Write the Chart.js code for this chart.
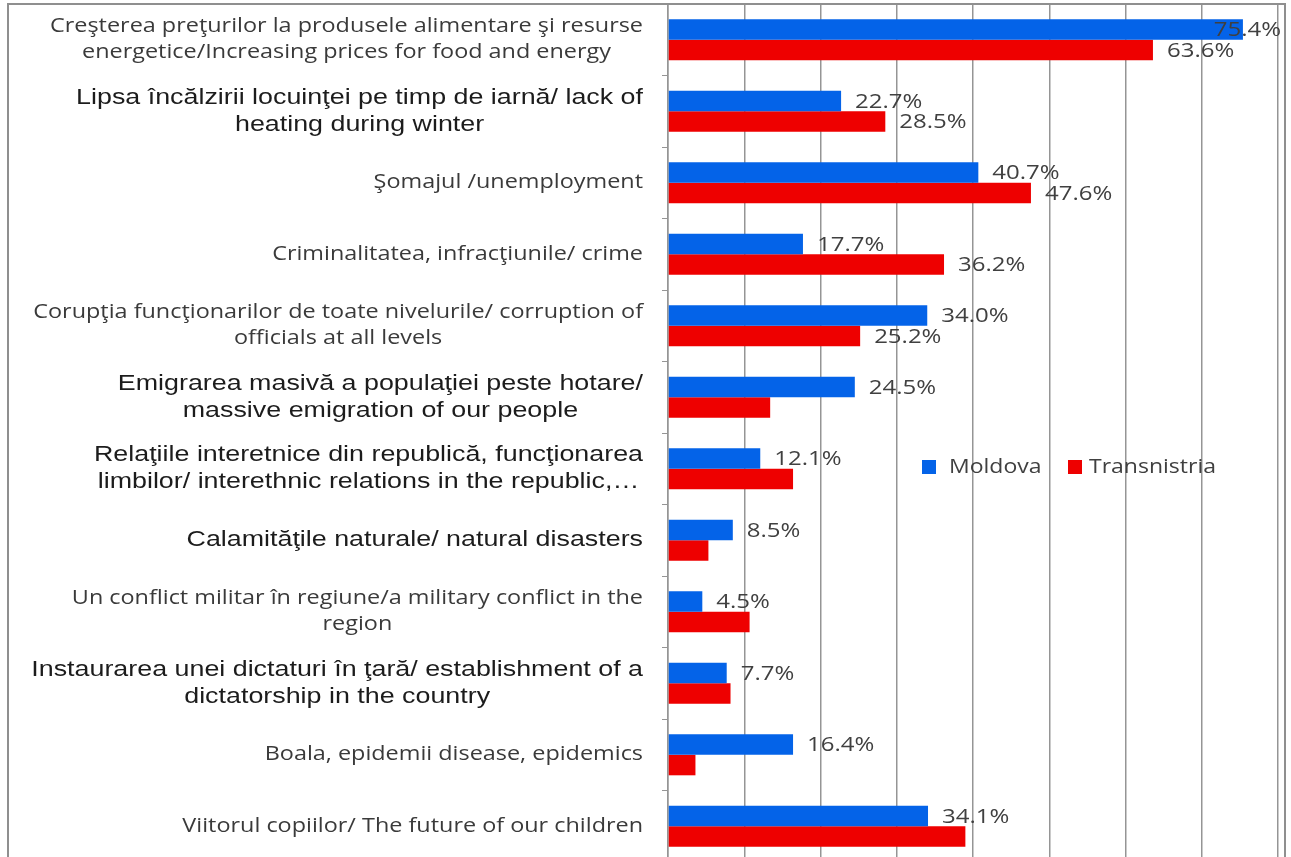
<!DOCTYPE html>
<html>
<head>
<meta charset="utf-8">
<script src="https://cdn.jsdelivr.net/npm/chart.js@4.4.0/dist/chart.umd.min.js"></script>
<style>
	html, body { margin: 0; padding: 0; background: #fff; overflow: hidden; }
	#wrap { position: relative; width: 1291px; height: 862px; }
</style>
</head>
<body>
<div id="wrap"><canvas id="problemsChart" width="1291" height="862"></canvas></div>
<script>
// categories (each entry = lines of the label)
var categories = [
	[ "Creşterea preţurilor la produsele alimentare şi resurse", "energetice/Increasing prices for food and energy" ],
	[ "Lipsa încălzirii locuinţei pe timp de iarnă/ lack of", "heating during winter" ],
	[ "Şomajul /unemployment" ],
	[ "Criminalitatea, infracţiunile/ crime" ],
	[ "Corupţia funcţionarilor de toate nivelurile/ corruption of", "officials at all levels" ],
	[ "Emigrarea masivă a populaţiei peste hotare/", "massive emigration of our people" ],
	[ "Relaţiile interetnice din republică, funcţionarea", "limbilor/ interethnic relations in the republic,…" ],
	[ "Calamităţile naturale/ natural disasters" ],
	[ "Un conflict militar în regiune/a military conflict in the", "region" ],
	[ "Instaurarea unei dictaturi în ţară/ establishment of a", "dictatorship in the country" ],
	[ "Boala, epidemii disease, epidemics" ],
	[ "Viitorul copiilor/ The future of our children" ]
];

var seriesNames = [ "Moldova", "Transnistria" ];
var moldovaValues = [ 75.4, 22.7, 40.7, 17.7, 34.0, 24.5, 12.1, 8.5, 4.5, 7.7, 16.4, 34.1 ];
var transnistriaValues = [ 63.6, 28.5, 47.6, 36.2, 25.2, 13.4, 16.4, 5.3, 10.7, 8.2, 3.6, 39.0 ];
// which bars carry a value label in the original
var moldovaLabelled = [ true, true, true, true, true, true, true, true, true, true, true, true ];
var transnistriaLabelled = [ true, true, true, true, true, false, false, false, false, false, false, false ];
var xTicks = [ 0, 10, 20, 30, 40, 50, 60, 70, 80 ];

var blue = "rgb(4, 99, 232)";
var red = "rgb(238, 0, 0)";
var frameColor = "#8f8f8f";

// rows written in an Arial-like face, the rest are Calibri-like
// (the source picture is stretched sideways, hence sx)
var arialRows = [ 1, 5, 6, 7, 9 ];
var calibriFont = { family: "'Open Sans'", size: 20, sx: 1.17, color: "#3a3a3a", lh: 26 };
var arialFont = { family: "'Liberation Sans'", size: 22, sx: 1.22, color: "#1c1c1c", lh: 27 };
var valueFont = { family: "'Open Sans'", size: 20, sx: 1.2, color: "#404040" };

function stretchedText( ctx, text, x, y, sx, align ) {
	ctx.save();
	ctx.translate( x, y );
	ctx.scale( sx, 1 );
	ctx.textAlign = align;
	ctx.fillText( text, 0, 0 );
	ctx.restore();
}

var framePlugin = {
	id: "frame",
	afterDraw: function( chart ) {
		var ctx = chart.ctx;
		ctx.save();
		ctx.strokeStyle = frameColor;
		ctx.lineWidth = 2;
		ctx.strokeRect( 8, 4, 1277, 900 );
		ctx.restore();
	}
};

var categoryLabelPlugin = {
	id: "categoryLabels",
	afterDraw: function( chart ) {
		var ctx = chart.ctx;
		var yScale = chart.scales.y;
		var rightEdge = yScale.right - 25;
		ctx.save();
		ctx.textBaseline = "middle";
		for ( var i = 0; i < categories.length; i++ ) {
			var f = arialRows.indexOf( i ) >= 0 ? arialFont : calibriFont;
			ctx.font = f.size + "px " + f.family;
			ctx.fillStyle = f.color;
			var lines = categories[ i ];
			var maxW = 0;
			for ( var j = 0; j < lines.length; j++ ) {
				maxW = Math.max( maxW, ctx.measureText( lines[ j ] ).width * f.sx );
			}
			var cx = rightEdge - maxW / 2;
			var cy = yScale.getPixelForTick( i );
			var top = cy - ( lines.length - 1 ) * f.lh / 2;
			for ( var j = 0; j < lines.length; j++ ) {
				stretchedText( ctx, lines[ j ], cx, top + j * f.lh, f.sx, "center" );
			}
		}
		ctx.restore();
	}
};

var valueLabelPlugin = {
	id: "valueLabels",
	afterDatasetsDraw: function( chart ) {
		var ctx = chart.ctx;
		var flags = [ moldovaLabelled, transnistriaLabelled ];
		ctx.save();
		ctx.font = valueFont.size + "px " + valueFont.family;
		ctx.fillStyle = valueFont.color;
		ctx.textBaseline = "middle";
		chart.data.datasets.forEach( function( ds, d ) {
			var meta = chart.getDatasetMeta( d );
			meta.data.forEach( function( bar, i ) {
				if ( !flags[ d ][ i ] ) { return; }
				var txt = ds.data[ i ].toFixed( 1 ) + "%";
				var w = ctx.measureText( txt ).width * valueFont.sx;
				var x = Math.min( bar.x + 14, 1281 - w );
				stretchedText( ctx, txt, x, bar.y + 1, valueFont.sx, "left" );
			} );
		} );
		ctx.restore();
	}
};

var legendPlugin = {
	id: "sideLegend",
	afterDraw: function( chart ) {
		var ctx = chart.ctx;
		var colors = [ blue, red ];
		var boxX = [ 922, 1068 ];
		var textX = [ 949, 1089 ];
		var y = 467;
		ctx.save();
		ctx.font = valueFont.size + "px " + valueFont.family;
		ctx.textBaseline = "middle";
		for ( var i = 0; i < seriesNames.length; i++ ) {
			ctx.fillStyle = colors[ i ];
			ctx.fillRect( boxX[ i ], y - 7, 14, 14 );
			ctx.fillStyle = valueFont.color;
			stretchedText( ctx, seriesNames[ i ], textX[ i ], y, 1.15, "left" );
		}
		ctx.restore();
	}
};

var problemsCtx = document.getElementById( "problemsChart" ).getContext( "2d" );

var problemsChart = new Chart( problemsCtx, {
	type: "bar",
	data: {
		labels: categories,
		datasets: [ {
			label: seriesNames[ 0 ],
			data: moldovaValues,
			backgroundColor: blue,
			categoryPercentage: 0.575,
			barPercentage: 1.0
		}, {
			label: seriesNames[ 1 ],
			data: transnistriaValues,
			backgroundColor: red,
			categoryPercentage: 0.575,
			barPercentage: 1.0
		} ]
	},
	options: {
		indexAxis: "y",
		responsive: false,
		animation: false,
		devicePixelRatio: 1,
		layout: {
			padding: { top: 4, right: 13, bottom: 0, left: 0 }
		},
		plugins: {
			legend: { display: false },
			tooltip: { enabled: false }
		},
		scales: {
			x: {
				min: xTicks[ 0 ],
				max: xTicks[ xTicks.length - 1 ],
				afterBuildTicks: function( scale ) {
					scale.ticks = xTicks.map( function( v ) { return { value: v }; } );
				},
				ticks: { display: false },
				grid: { color: "#959595", lineWidth: 1.5, drawTicks: false },
				border: { display: false },
				afterFit: function( scale ) { scale.height = 0; }
			},
			y: {
				ticks: { display: false },
				grid: {
					drawOnChartArea: false,
					tickLength: 6,
					color: "#959595"
				},
				border: { color: "#959595", width: 1.5 },
				afterFit: function( scale ) { scale.width = 668; }
			}
		}
	},
	plugins: [ categoryLabelPlugin, valueLabelPlugin, legendPlugin, framePlugin ]
} );
</script>
</body>
</html>
